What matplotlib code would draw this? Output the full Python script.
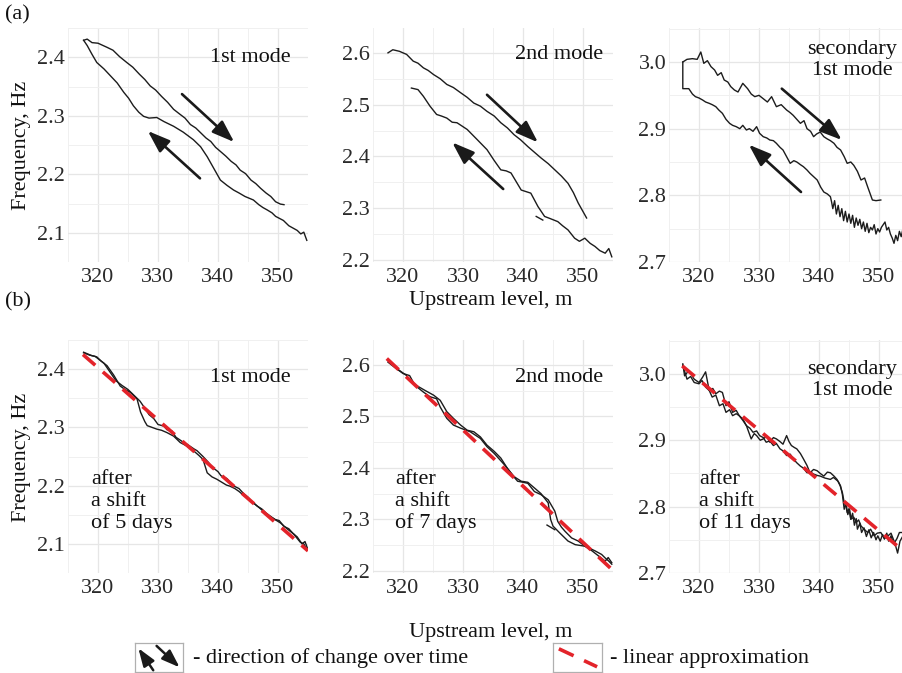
import matplotlib
matplotlib.use("Agg")
import matplotlib.pyplot as plt
from matplotlib.ticker import FixedLocator

plt.rcParams['font.family'] = ['Liberation Serif', 'DejaVu Serif']

# ---------------- data ----------------
# (a) 1st mode
a1_down_x = [317.6, 318.2, 319.0, 320.0, 321.5, 322.5, 323.6, 324.8, 325.8, 326.9, 327.8, 328.7, 329.6, 330.6, 331.6,
             332.6, 333.6, 334.5, 335.4, 336.3, 337.1, 338.0, 338.8, 339.6, 340.4, 341.3, 342.2, 343.0, 343.7, 344.6,
             345.5, 346.3, 347.1, 348.0, 348.8, 349.6, 350.4, 351.0]
a1_down_y = [2.429, 2.431, 2.425, 2.424, 2.417, 2.412, 2.401, 2.391, 2.383, 2.371, 2.362, 2.351, 2.344, 2.333, 2.323,
             2.311, 2.303, 2.296, 2.285, 2.279, 2.271, 2.262, 2.256, 2.246, 2.239, 2.231, 2.222, 2.216, 2.207, 2.201,
             2.190, 2.184, 2.176, 2.168, 2.162, 2.153, 2.149, 2.148]
a1_up_x = [317.6, 318.2, 319.0, 319.8, 321.0, 322.1, 323.2, 324.3, 325.1, 325.9, 326.8, 327.6, 328.5, 329.8, 331.0,
           332.6, 334.2, 335.9, 337.1, 338.2, 339.3, 340.4, 341.5, 342.6, 343.5, 344.5, 345.9, 346.8, 347.5, 348.2,
           349.0, 349.6, 350.9, 351.8, 352.5, 353.2, 353.8, 354.3, 354.8]
a1_up_y = [2.429, 2.420, 2.405, 2.391, 2.380, 2.368, 2.356, 2.340, 2.330, 2.317, 2.306, 2.299, 2.296, 2.297, 2.290,
           2.282, 2.272, 2.259, 2.247, 2.230, 2.210, 2.190, 2.181, 2.173, 2.168, 2.162, 2.156, 2.148, 2.143, 2.139,
           2.134, 2.128, 2.121, 2.112, 2.108, 2.104, 2.098, 2.101, 2.087]

# (a) 2nd mode
a2_down_x = [317.5, 318.3, 319.4, 320.6, 321.7, 322.5, 323.4, 324.2, 325.1, 326.2, 327.3, 328.4, 329.6, 330.7, 331.8,
             332.9, 334.0, 335.2, 336.3, 337.4, 338.5, 339.6, 340.8, 341.9, 343.0, 344.2, 345.3, 346.4, 347.5, 348.4,
             349.2, 350.6]
a2_down_y = [2.600, 2.606, 2.603, 2.597, 2.584, 2.580, 2.571, 2.566, 2.558, 2.550, 2.539, 2.533, 2.523, 2.514, 2.503,
             2.497, 2.487, 2.478, 2.465, 2.455, 2.442, 2.432, 2.419, 2.408, 2.397, 2.386, 2.374, 2.362, 2.348, 2.330,
             2.310, 2.281]
a2_up_x = [321.4, 322.5, 323.4, 324.5, 325.6, 326.4, 327.3, 328.2, 329.0, 330.7, 332.4, 334.0, 335.2, 336.3, 337.2,
           338.0, 339.7, 340.5, 341.3, 342.5, 343.6, 344.5, 345.8, 346.6, 347.5, 348.6, 349.4, 350.3, 351.2, 352.0,
           352.8, 353.7, 354.3, 354.8]
a2_up_y = [2.532, 2.529, 2.516, 2.497, 2.481, 2.478, 2.474, 2.466, 2.465, 2.452, 2.432, 2.413, 2.392, 2.374, 2.372,
           2.368, 2.335, 2.332, 2.329, 2.303, 2.284, 2.280, 2.274, 2.266, 2.258, 2.242, 2.236, 2.242, 2.232, 2.226,
           2.218, 2.213, 2.222, 2.206]
a2_frag_x = [342.2, 343.3]
a2_frag_y = [2.284, 2.277]

# (a) secondary 1st mode
a3_down_x = [317.3, 318.0, 318.9, 319.7, 320.3, 320.8, 321.4, 322.0, 322.6, 323.1, 323.7, 324.2, 324.8, 325.3, 325.9,
             326.5, 327.3, 328.1, 328.7, 329.3, 330.0, 330.7, 331.4, 332.1, 332.9, 333.7, 334.6, 335.2, 335.7, 336.3,
             336.9, 337.5, 338.0, 338.6, 339.1, 339.6, 340.2, 340.8, 341.3, 341.9, 342.5, 343.0, 343.6, 344.2, 344.7,
             345.3, 345.8, 346.4, 347.0, 347.6, 348.1, 348.9, 349.5, 350.3]
a3_down_y = [3.000, 3.004, 3.005, 3.004, 3.015, 2.998, 3.002, 2.993, 2.988, 2.980, 2.984, 2.973, 2.970, 2.963, 2.958,
             2.955, 2.968, 2.960, 2.952, 2.948, 2.950, 2.945, 2.940, 2.948, 2.933, 2.936, 2.928, 2.924, 2.920, 2.914,
             2.908, 2.912, 2.900, 2.896, 2.888, 2.892, 2.895, 2.888, 2.885, 2.882, 2.878, 2.872, 2.868, 2.858, 2.848,
             2.850, 2.845, 2.836, 2.823, 2.826, 2.813, 2.793, 2.792, 2.793]
a3_up_x = [317.3, 317.3, 318.3, 318.9, 319.4, 320.0, 320.6, 321.1, 321.7, 322.2, 322.8, 323.3, 323.9, 324.5, 325.1,
           325.6, 326.2, 326.8, 327.3, 327.9, 328.4, 329.0, 329.6, 330.1, 330.7, 331.3, 331.8, 332.4, 332.9, 333.5,
           334.0, 334.6, 335.2, 335.8, 336.3, 336.9, 337.4, 338.0, 338.5, 339.1, 339.7, 340.3, 340.8, 341.4,
           341.9, 342.1, 342.3, 342.6, 342.9, 343.2, 343.5, 343.8, 344.1, 344.4, 344.7, 345.0, 345.3, 345.6, 345.9,
           346.2, 346.5, 346.8, 347.1, 347.4, 347.7, 348.0, 348.3, 348.6, 348.9, 349.2, 349.5, 349.8, 350.1, 350.4,
           350.7, 351.0, 351.3, 351.6, 351.9, 352.2, 352.5, 352.8, 353.1, 353.4, 353.7, 354.0, 354.3]
a3_up_y = [3.000, 2.960, 2.960, 2.952, 2.948, 2.946, 2.943, 2.940, 2.938, 2.936, 2.933, 2.928, 2.923, 2.914, 2.908,
           2.905, 2.903, 2.900, 2.905, 2.898, 2.900, 2.896, 2.903, 2.893, 2.888, 2.886, 2.883, 2.882, 2.878, 2.872,
           2.868, 2.858, 2.848, 2.852, 2.850, 2.846, 2.843, 2.838, 2.833, 2.828, 2.823, 2.812, 2.805, 2.802,
           2.798, 2.790, 2.780, 2.792, 2.772, 2.785, 2.768, 2.780, 2.762, 2.776, 2.760, 2.772, 2.758, 2.770, 2.752,
           2.766, 2.755, 2.764, 2.750, 2.760, 2.746, 2.758, 2.744, 2.752, 2.748, 2.756, 2.742, 2.750, 2.745, 2.752,
           2.756, 2.760, 2.748, 2.752, 2.742, 2.736, 2.728, 2.740, 2.732, 2.746, 2.738, 2.750, 2.744]

# (b) shifted curves
b1_a_x = [317.6, 319.0, 319.8, 320.5, 321.5, 322.6, 323.7, 324.5, 325.4, 326.5, 327.1, 327.8, 328.2, 329.0, 329.8,
          330.6, 331.5, 332.6, 333.7, 334.8, 335.9, 336.8, 337.5, 338.2, 339.0, 339.8, 340.6, 341.4, 342.0, 342.8,
          343.5, 344.3, 345.2, 346.1, 347.1, 348.2, 349.3, 350.4, 351.5, 352.6, 353.7, 354.3, 354.8]
b1_a_y = [2.429, 2.423, 2.421, 2.414, 2.406, 2.390, 2.371, 2.365, 2.360, 2.349, 2.326, 2.310, 2.303, 2.300, 2.297,
          2.295, 2.291, 2.285, 2.274, 2.268, 2.260, 2.252, 2.245, 2.222, 2.215, 2.211, 2.206, 2.201, 2.199, 2.195,
          2.190, 2.183, 2.176, 2.169, 2.160, 2.150, 2.143, 2.136, 2.126, 2.117, 2.103, 2.100, 2.091]
b1_b_x = [317.6, 318.6, 319.5, 321.0, 322.0, 323.0, 324.0, 325.0, 326.0, 327.0, 327.8, 328.5, 329.3, 330.0, 331.0,
          331.5, 332.3, 333.0, 334.0, 335.0, 336.0, 336.5, 337.5, 338.4, 339.0, 340.0, 340.5, 341.5, 342.5, 343.5,
          344.3, 345.0, 345.8, 346.5, 347.3, 348.0, 348.8, 349.5, 350.2, 351.0, 351.8, 352.5, 353.2, 354.0, 354.5, 355.0]
b1_b_y = [2.428, 2.424, 2.422, 2.410, 2.395, 2.380, 2.372, 2.365, 2.355, 2.345, 2.333, 2.322, 2.315, 2.305, 2.302,
          2.296, 2.294, 2.283, 2.276, 2.270, 2.263, 2.260, 2.250, 2.240, 2.232, 2.224, 2.217, 2.212, 2.200, 2.195,
          2.186, 2.180, 2.171, 2.165, 2.160, 2.153, 2.147, 2.142, 2.140, 2.130, 2.126, 2.118, 2.112, 2.100, 2.104, 2.090]
b1_fit_x = [317.5, 355.0]
b1_fit_y = [2.425, 2.088]

b2_a_x = [317.5, 318.3, 319.4, 320.6, 321.1, 322.2, 323.7, 325.1, 326.2, 327.3, 328.4, 329.6, 330.7, 331.8, 332.9,
          334.0, 335.2, 336.3, 337.4, 338.3, 339.1, 340.0, 340.8, 341.9, 343.0, 344.2, 345.3, 345.8, 346.4, 347.0,
          348.1, 349.2, 350.1, 350.9, 352.0, 353.1, 353.8, 354.3, 354.8]
b2_a_y = [2.608, 2.599, 2.589, 2.579, 2.570, 2.560, 2.550, 2.541, 2.531, 2.509, 2.496, 2.483, 2.473, 2.470, 2.460,
          2.444, 2.432, 2.419, 2.399, 2.385, 2.374, 2.372, 2.370, 2.354, 2.348, 2.338, 2.316, 2.296, 2.285, 2.277,
          2.264, 2.258, 2.250, 2.245, 2.239, 2.232, 2.224, 2.219, 2.213]
b2_b_x = [317.5, 318.6, 320.0, 321.1, 322.0, 323.4, 324.5, 325.6, 326.2, 327.3, 328.4, 329.6, 331.2, 332.9, 334.0,
          335.2, 336.9, 338.5, 339.7, 340.8, 341.9, 343.0, 344.2, 344.6, 345.0, 346.1, 347.5, 348.7, 350.3, 351.5,
          352.6, 353.7, 354.2, 354.8]
b2_b_y = [2.605, 2.595, 2.583, 2.579, 2.560, 2.547, 2.538, 2.534, 2.518, 2.496, 2.483, 2.477, 2.470, 2.457, 2.441,
          2.428, 2.406, 2.383, 2.374, 2.372, 2.361, 2.350, 2.332, 2.300, 2.287, 2.274, 2.258, 2.251, 2.248, 2.239,
          2.229, 2.219, 2.226, 2.216]
b2_frag_x = [344.0, 345.3]
b2_frag_y = [2.289, 2.280]
b2_fit_x = [317.3, 354.8]
b2_fit_y = [2.612, 2.203]

b3_a_x = [317.3, 317.6, 318.3, 319.2, 320.0, 320.6, 321.1, 321.7, 322.3, 322.8, 323.4, 323.9, 324.5, 325.0, 325.6,
          326.2, 326.7, 327.3, 327.9, 328.3, 328.7, 329.2, 329.6, 330.2, 330.7, 331.3, 331.8, 332.4, 332.9, 333.5,
          334.0, 334.6, 335.0, 335.4, 335.9, 336.3, 336.9, 337.4, 338.0, 338.5, 339.1, 339.7, 340.2, 340.8, 341.4,
          341.9, 342.5, 343.0, 343.5, 343.9, 344.2, 344.5, 344.7, 345.0, 345.3, 345.8, 346.2, 346.6, 347.0, 347.5,
          348.1, 348.6, 349.2, 349.7, 350.3, 350.9, 351.5, 352.0, 352.6, 353.0, 353.4, 354.0]
b3_a_y = [3.015, 2.997, 3.005, 2.992, 2.987, 2.995, 3.003, 2.975, 2.978, 2.970, 2.974, 2.972, 2.952, 2.958, 2.942,
          2.945, 2.937, 2.930, 2.922, 2.912, 2.902, 2.910, 2.907, 2.900, 2.902, 2.906, 2.897, 2.904, 2.902, 2.898,
          2.894, 2.907, 2.898, 2.892, 2.889, 2.887, 2.880, 2.872, 2.862, 2.851, 2.856, 2.854, 2.850, 2.846, 2.852,
          2.851, 2.846, 2.841, 2.832, 2.821, 2.806, 2.800, 2.791, 2.797, 2.781, 2.784, 2.776, 2.780, 2.771, 2.766,
          2.761, 2.766, 2.756, 2.760, 2.761, 2.752, 2.756, 2.760, 2.746, 2.752, 2.761, 2.761]
b3_b_x = [317.3, 318.0, 318.6, 319.2, 320.0, 320.5, 321.1, 321.7, 322.2, 322.8, 323.4, 324.0, 324.5, 325.1, 325.6,
          326.2, 326.7, 327.3, 327.9, 328.5, 329.0, 329.6, 330.1, 330.7, 331.2, 331.8, 332.4, 332.9, 333.5, 334.0,
          334.6, 335.2, 335.7, 336.3, 336.9, 337.4, 338.0, 338.6, 339.1, 339.7, 340.2, 341.0, 341.9, 342.4, 342.8,
          343.2, 343.6, 343.9, 344.2, 344.5, 344.8, 345.1, 345.3, 345.6, 345.9, 346.2, 346.4, 346.8, 347.1, 347.5,
          347.9, 348.3, 348.7, 349.1, 349.5, 349.8, 350.2, 350.6, 350.9, 351.3, 351.6, 352.0, 352.4, 352.8, 353.1,
          353.5, 354.0]
b3_b_y = [3.013, 2.992, 2.996, 2.987, 2.985, 2.990, 2.980, 2.975, 2.965, 2.968, 2.952, 2.955, 2.942, 2.946, 2.937,
          2.940, 2.937, 2.932, 2.922, 2.918, 2.912, 2.914, 2.907, 2.904, 2.897, 2.899, 2.892, 2.895, 2.887, 2.884,
          2.877, 2.879, 2.872, 2.866, 2.861, 2.858, 2.851, 2.852, 2.849, 2.847, 2.846, 2.843, 2.841, 2.844, 2.841,
          2.838, 2.831, 2.818, 2.796, 2.805, 2.788, 2.796, 2.781, 2.790, 2.772, 2.782, 2.766, 2.775, 2.761, 2.768,
          2.755, 2.765, 2.753, 2.761, 2.750, 2.756, 2.748, 2.758, 2.751, 2.760, 2.748, 2.756, 2.745, 2.740, 2.730,
          2.748, 2.756]
b3_fit_x = [317.2, 355.0]
b3_fit_y = [3.012, 2.726]

x_ticks = [320, 330, 340, 350]
x_minor = [315, 325, 335, 345, 355]
x_lim = (315, 355)
y_ticks = [[2.1, 2.2, 2.3, 2.4], [2.2, 2.3, 2.4, 2.5, 2.6], [2.7, 2.8, 2.9, 3.0]]
y_minor = [[2.05, 2.15, 2.25, 2.35, 2.45], [2.25, 2.35, 2.45, 2.55, 2.65], [2.75, 2.85, 2.95, 3.05]]
y_lims = [(2.05, 2.45), (2.196, 2.648), (2.70, 3.051)]
y_tick_labels = [["2.1", "2.2", "2.3", "2.4"], ["2.2", "2.3", "2.4", "2.5", "2.6"], ["2.7", "2.8", "2.9", "3.0"]]
mode_labels = ["1st mode", "2nd mode", "secondary\n1st mode"]
shift_labels = ["after\na shift\nof 5 days", "after\na shift\nof 7 days", "after\na shift\nof 11 days"]

# ---------------- figure ----------------
W, H = 902, 673
fig = plt.figure(figsize=(W / 100, H / 100), dpi=100)
FS = 16
LINE_C = '#1c1c1c'
RED = '#e3232a'


def px(l, t, r, b):
    return [l / W, 1 - b / H, (r - l) / W, (b - t) / H]


lefts = [68, 373, 669]
row_tb = [(28, 262), (340, 573)]
axes = []
for r, (t, b) in enumerate(row_tb):
    row = []
    for c, l in enumerate(lefts):
        ax = fig.add_axes(px(l, t, l + 240, b))
        ax.set_xlim(*x_lim)
        ax.set_ylim(*y_lims[c])
        ax.xaxis.set_major_locator(FixedLocator(x_ticks))
        ax.xaxis.set_minor_locator(FixedLocator(x_minor))
        ax.yaxis.set_major_locator(FixedLocator(y_ticks[c]))
        ax.yaxis.set_minor_locator(FixedLocator(y_minor[c]))
        ax.set_yticklabels(y_tick_labels[c])
        ax.set_xticklabels([str(v) for v in x_ticks])
        for s in ax.spines.values():
            s.set_visible(False)
        ax.tick_params(which='both', length=0, labelsize=FS, colors='#2a2a2a')
        ax.tick_params(axis='x', pad=4)
        ax.tick_params(axis='y', pad=2)
        ax.grid(which='major', color='#e6e6e6', lw=0.9)
        ax.grid(which='minor', color='#f0f0f0', lw=0.7)
        ax.set_axisbelow(True)
        row.append(ax)
    axes.append(row)

lw = 1.0
# row (a)
ax = axes[0][0]
ax.plot(a1_down_x, a1_down_y, color=LINE_C, lw=lw)
ax.plot(a1_up_x, a1_up_y, color=LINE_C, lw=lw)
ax = axes[0][1]
ax.plot(a2_down_x, a2_down_y, color=LINE_C, lw=lw)
ax.plot(a2_up_x, a2_up_y, color=LINE_C, lw=lw)
ax.plot(a2_frag_x, a2_frag_y, color=LINE_C, lw=lw)
ax = axes[0][2]
ax.plot(a3_down_x, a3_down_y, color=LINE_C, lw=lw)
ax.plot(a3_up_x, a3_up_y, color=LINE_C, lw=lw)

# arrows (tail, head) in data coords
arrow_sets = [
    [((334.0, 2.337), (342.7, 2.255)), ((337.0, 2.193), (328.3, 2.274))],
    [((334.0, 2.519), (342.5, 2.427)), ((336.7, 2.337), (328.2, 2.427))],
    [((333.8, 2.960), (343.8, 2.883)), ((337.0, 2.805), (328.3, 2.876))],
]
ARROW_STYLE = '-|>,head_length=0.9,head_width=0.32'
for c in range(3):
    for tail, head in arrow_sets[c]:
        axes[0][c].annotate('', xy=head, xytext=tail,
                            arrowprops=dict(arrowstyle=ARROW_STYLE,
                                            lw=1.9, color='#1a1a1a', shrinkA=0, shrinkB=0,
                                            mutation_scale=15))

# row (b)
ax = axes[1][0]
ax.plot(b1_a_x, b1_a_y, color=LINE_C, lw=lw)
ax.plot(b1_b_x, b1_b_y, color=LINE_C, lw=lw)
ax.plot(b1_fit_x, b1_fit_y, color=RED, lw=2.6, dashes=(4.5, 2.8))
ax = axes[1][1]
ax.plot(b2_a_x, b2_a_y, color=LINE_C, lw=lw)
ax.plot(b2_b_x, b2_b_y, color=LINE_C, lw=lw)
ax.plot(b2_frag_x, b2_frag_y, color=LINE_C, lw=lw)
ax.plot(b2_fit_x, b2_fit_y, color=RED, lw=2.6, dashes=(4.5, 2.8))
ax = axes[1][2]
ax.plot(b3_a_x, b3_a_y, color=LINE_C, lw=lw)
ax.plot(b3_b_x, b3_b_y, color=LINE_C, lw=lw)
ax.plot(b3_fit_x, b3_fit_y, color=RED, lw=2.6, dashes=(4.5, 2.8))

# panel texts
mode_pos_top = [(0.76, 0.876), (0.776, 0.885), (0.764, 0.863)]
mode_pos_bot = [(0.76, 0.84), (0.776, 0.84), (0.764, 0.828)]
shift_pos = [(0.096, 0.305), (0.093, 0.305), (0.127, 0.305)]
for c in range(3):
    axes[0][c].text(*mode_pos_top[c], mode_labels[c], transform=axes[0][c].transAxes,
                    ha='center', va='center', fontsize=FS, linespacing=1.12, color='#111111')
    axes[1][c].text(*mode_pos_bot[c], mode_labels[c], transform=axes[1][c].transAxes,
                    ha='center', va='center', fontsize=FS, linespacing=1.12, color='#111111')
    axes[1][c].text(*shift_pos[c], shift_labels[c], transform=axes[1][c].transAxes,
                    ha='left', va='center', fontsize=FS, linespacing=1.18, color='#111111')

# axis labels
for yc in [145, 457]:
    fig.text(22 / W, 1 - yc / H, "Frequency, Hz", rotation=90, ha='center', va='center', fontsize=FS,
             color='#111111')
for yc in [300, 632]:
    fig.text(491 / W, 1 - yc / H, "Upstream level, m", ha='center', va='center', fontsize=FS, color='#111111')

fig.text(5 / W, 1 - 15 / H, "(a)", ha='left', va='center', fontsize=FS, color='#111111')
fig.text(5 / W, 1 - 302 / H, "(b)", ha='left', va='center', fontsize=FS, color='#111111')

# legend
lg1 = fig.add_axes(px(135, 643, 183, 672))
lg2 = fig.add_axes(px(553, 643, 602, 672))
for lg in (lg1, lg2):
    lg.set_xlim(0, 1)
    lg.set_ylim(0, 1)
    lg.set_xticks([])
    lg.set_yticks([])
    for s in lg.spines.values():
        s.set_color('#b0b0b0')
        s.set_linewidth(0.9)
for tail, head in [((0.38, 0.06), (0.07, 0.82)), ((0.45, 0.90), (0.93, 0.16))]:
    lg1.annotate('', xy=head, xytext=tail,
                 arrowprops=dict(arrowstyle=ARROW_STYLE, lw=1.8,
                                 color='#1a1a1a', shrinkA=0, shrinkB=0, mutation_scale=12))
lg2.plot([0.12, 0.90], [0.80, 0.18], color=RED, lw=2.6, dashes=(4.5, 3.2))
fig.text(193 / W, 1 - 658 / H, "- direction of change over time", ha='left', va='center', fontsize=FS,
         color='#111111')
fig.text(610 / W, 1 - 658 / H, "- linear approximation", ha='left', va='center', fontsize=FS, color='#111111')

fig.savefig("out.png", dpi=100)
